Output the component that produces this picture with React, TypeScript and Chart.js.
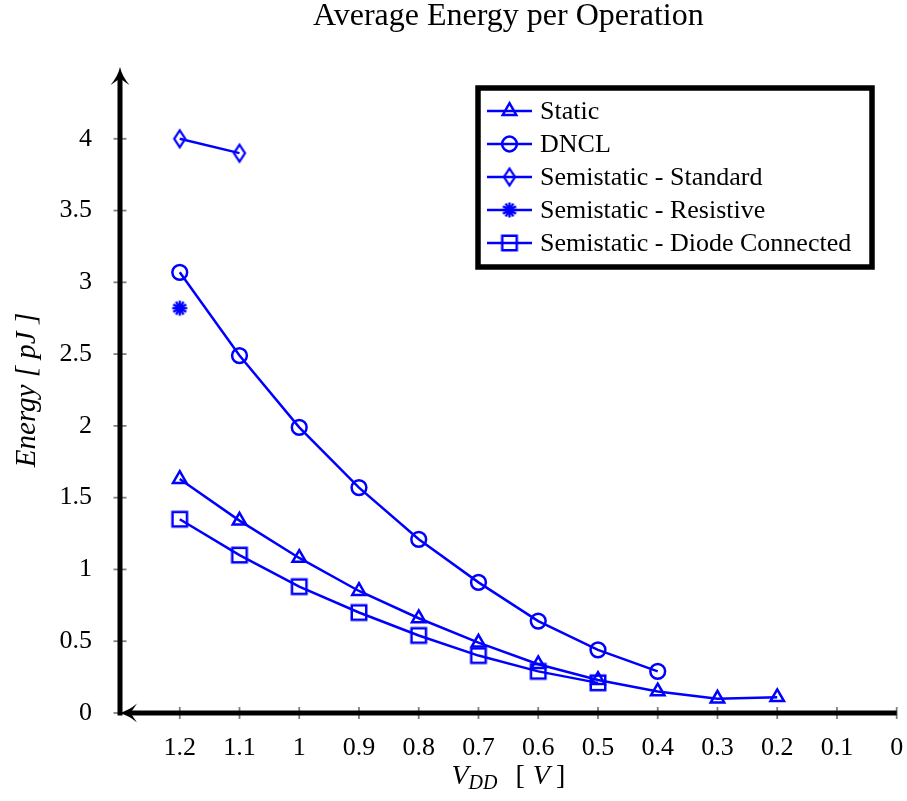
import React, { useEffect, useRef } from 'react';
import { Chart, registerables } from 'chart.js';
import { drawPoint } from 'chart.js/helpers';

Chart.register(...registerables);

const TITLE = 'Average Energy per Operation';
const Y_TITLE = 'Energy [ pJ ]';

const staticVdd = [1.2, 1.1, 1.0, 0.9, 0.8, 0.7, 0.6, 0.5, 0.4, 0.3, 0.2];
const staticEnergy = [1.63, 1.34, 1.08, 0.85, 0.66, 0.49, 0.34, 0.23, 0.15, 0.1, 0.11];

const dnclVdd = [1.2, 1.1, 1.0, 0.9, 0.8, 0.7, 0.6, 0.5, 0.4];
const dnclEnergy = [3.07, 2.49, 1.99, 1.57, 1.21, 0.91, 0.64, 0.44, 0.29];

const standardVdd = [1.2, 1.1];
const standardEnergy = [4.0, 3.9];

const resistiveVdd = [1.2];
const resistiveEnergy = [2.82];

const diodeVdd = [1.2, 1.1, 1.0, 0.9, 0.8, 0.7, 0.6, 0.5];
const diodeEnergy = [1.35, 1.1, 0.88, 0.7, 0.54, 0.4, 0.29, 0.21];

const seriesLabels = [
  'Static',
  'DNCL',
  'Semistatic - Standard',
  'Semistatic - Resistive',
  'Semistatic - Diode Connected',
];

const BLUE = 'rgb(0,0,255)';
const SERIF = '"Liberation Serif", "Times New Roman", serif';

function makeDiamond(): HTMLCanvasElement {
  const c = document.createElement('canvas');
  c.width = 20;
  c.height = 24;
  const g = c.getContext('2d')!;
  g.strokeStyle = BLUE;
  g.lineWidth = 2.3;
  g.beginPath();
  g.moveTo(10, 3.5);
  g.lineTo(15.5, 12);
  g.lineTo(10, 20.5);
  g.lineTo(4.5, 12);
  g.closePath();
  g.stroke();
  return c;
}

function makeSquare(): HTMLCanvasElement {
  const c = document.createElement('canvas');
  c.width = 22;
  c.height = 22;
  const g = c.getContext('2d')!;
  g.strokeStyle = BLUE;
  g.lineWidth = 2.5;
  g.strokeRect(3.75, 3.75, 14.5, 14.5);
  return c;
}

function makeAsterisk(): HTMLCanvasElement {
  const c = document.createElement('canvas');
  c.width = 20;
  c.height = 20;
  const g = c.getContext('2d')!;
  g.strokeStyle = BLUE;
  g.lineWidth = 2.4;
  const r = 7.5;
  [0, 30, 60, 90, 120, 150].forEach((deg) => {
    const a = (deg * Math.PI) / 180;
    g.beginPath();
    g.moveTo(10 - r * Math.cos(a), 10 - r * Math.sin(a));
    g.lineTo(10 + r * Math.cos(a), 10 + r * Math.sin(a));
    g.stroke();
  });
  g.fillStyle = BLUE;
  g.beginPath();
  g.arc(10, 10, 4.5, 0, Math.PI * 2);
  g.fill();
  return c;
}

function drawArrow(ctx: CanvasRenderingContext2D, tx: number, ty: number, dir: 'left' | 'up') {
  const L = 18;
  const W = 9.5;
  ctx.save();
  ctx.translate(tx, ty);
  if (dir === 'up') ctx.rotate(Math.PI / 2);
  ctx.beginPath();
  ctx.moveTo(0, 0);
  ctx.quadraticCurveTo(L * 0.55, -W * 0.25, L, -W);
  ctx.quadraticCurveTo(L * 0.72, -W * 0.2, L * 0.62, 0);
  ctx.quadraticCurveTo(L * 0.72, W * 0.2, L, W);
  ctx.quadraticCurveTo(L * 0.55, W * 0.25, 0, 0);
  ctx.closePath();
  ctx.fillStyle = '#000';
  ctx.fill();
  ctx.restore();
}

const fmt = (v: number) => String(Number(Number(v).toFixed(2)));

const axesPlugin = {
  id: 'axesDeco',
  beforeDatasetsDraw(chart: any) {
    const { ctx, chartArea, scales } = chart;
    const xs = scales.x;
    const ys = scales.y;
    const y0 = ys.getPixelForValue(0);
    const left = chartArea.left;
    ctx.save();
    ctx.strokeStyle = 'rgb(128,128,128)';
    ctx.lineWidth = 1.8;
    xs.ticks.forEach((t: any) => {
      const px = xs.getPixelForValue(t.value);
      ctx.beginPath();
      ctx.moveTo(px, y0 - 6);
      ctx.lineTo(px, y0 + 6);
      ctx.stroke();
    });
    ys.ticks.forEach((t: any) => {
      const py = ys.getPixelForValue(t.value);
      ctx.beginPath();
      ctx.moveTo(left - 6.5, py);
      ctx.lineTo(left + 6.5, py);
      ctx.stroke();
    });
    ctx.strokeStyle = '#000';
    ctx.lineWidth = 5;
    ctx.beginPath();
    ctx.moveTo(xs.getPixelForValue(0), y0);
    ctx.lineTo(left + 8, y0);
    ctx.stroke();
    ctx.beginPath();
    ctx.moveTo(left, y0 + 2.5);
    ctx.lineTo(left, chartArea.top + 8);
    ctx.stroke();
    drawArrow(ctx, left - 1, y0, 'left');
    drawArrow(ctx, left, chartArea.top, 'up');

    // x axis title with subscript
    const parts = [
      { t: 'V', f: `italic 28px ${SERIF}`, dy: 0, gap: 0 },
      { t: 'DD', f: `italic 20px ${SERIF}`, dy: 5, gap: 18 },
      { t: '[', f: `28px ${SERIF}`, dy: 0, gap: 8 },
      { t: 'V', f: `italic 28px ${SERIF}`, dy: 0, gap: 6 },
      { t: ']', f: `28px ${SERIF}`, dy: 0, gap: 0 },
    ];
    let total = 0;
    const widths = parts.map((p) => {
      ctx.font = p.f;
      const w = ctx.measureText(p.t).width;
      total += w + p.gap;
      return w;
    });
    const cx = (chartArea.left + chartArea.right) / 2;
    let x = cx - total / 2;
    const base = 784;
    ctx.fillStyle = '#000';
    ctx.textBaseline = 'alphabetic';
    ctx.textAlign = 'left';
    parts.forEach((p, i) => {
      ctx.font = p.f;
      ctx.fillText(p.t, x, base + p.dy);
      x += widths[i] + p.gap;
    });
    ctx.restore();
  },
};

const legendPlugin = {
  id: 'boxLegend',
  afterDraw(chart: any) {
    const { ctx } = chart;
    ctx.save();
    ctx.strokeStyle = '#000';
    ctx.lineWidth = 5.5;
    ctx.strokeRect(478, 88, 394, 179);
    chart.data.datasets.forEach((ds: any, i: number) => {
      const cy = 111 + 33 * i;
      ctx.strokeStyle = BLUE;
      ctx.lineWidth = 2.5;
      ctx.beginPath();
      ctx.moveTo(487, cy);
      ctx.lineTo(532, cy);
      ctx.stroke();
      ctx.fillStyle = 'rgba(0,0,0,0)';
      drawPoint(
        ctx,
        {
          pointStyle: ds.pointStyle,
          radius: ds.pointRadius,
          rotation: 0,
          borderWidth: ds.pointBorderWidth,
        } as any,
        509.5,
        cy
      );
      ctx.fillStyle = '#000';
      ctx.font = `26px ${SERIF}`;
      ctx.textBaseline = 'middle';
      ctx.textAlign = 'left';
      ctx.fillText(ds.label, 540, cy + 1);
    });
    ctx.restore();
  },
};

export default function App() {
  const ref = useRef<HTMLCanvasElement>(null);
  useEffect(() => {
    const diamond = makeDiamond();
    const asterisk = makeAsterisk();
    const square = makeSquare();
    const mk = (label: string, xs: number[], ys: number[], style: any, radius: number) => ({
      label,
      data: xs.map((x, i) => ({ x, y: ys[i] })),
      borderColor: BLUE,
      backgroundColor: 'rgba(0,0,0,0)',
      borderWidth: 2.5,
      pointStyle: style,
      pointRadius: radius,
      pointHoverRadius: radius,
      pointBorderWidth: 2.5,
      pointBackgroundColor: 'rgba(0,0,0,0)',
      pointBorderColor: BLUE,
      tension: 0,
      fill: false,
    });
    const chart = new Chart(ref.current!, {
      type: 'line',
      data: {
        datasets: [
          mk(seriesLabels[0], staticVdd, staticEnergy, 'triangle', 7.8),
          mk(seriesLabels[1], dnclVdd, dnclEnergy, 'circle', 7.4),
          mk(seriesLabels[2], standardVdd, standardEnergy, diamond, 7.5),
          mk(seriesLabels[3], resistiveVdd, resistiveEnergy, asterisk, 7.5),
          mk(seriesLabels[4], diodeVdd, diodeEnergy, square, 7.5),
        ],
      },
      options: {
        animation: false,
        responsive: false,
        devicePixelRatio: 1,
        events: [],
        layout: { padding: { left: 0, right: 10, top: 0, bottom: 0 } },
        plugins: {
          legend: { display: false },
          tooltip: { enabled: false },
          title: {
            display: true,
            fullSize: false,
            text: TITLE,
            color: '#000',
            font: { family: SERIF, size: 32, weight: 'normal', lineHeight: 1 },
            padding: { top: 1, bottom: 34 },
          },
        },
        scales: {
          x: {
            type: 'linear',
            reverse: true,
            min: 0,
            max: 1.3,
            border: { display: false },
            grid: { display: false },
            ticks: {
              stepSize: 0.1,
              color: '#000',
              padding: 12,
              font: { family: SERIF, size: 26 },
              maxRotation: 0,
              autoSkip: false,
              callback: (v: any) => fmt(v),
            },
            afterBuildTicks: (s: any) => {
              s.ticks = s.ticks.filter((t: any) => t.value <= 1.2001);
            },
            afterFit: (s: any) => {
              s.height = 88;
              s.paddingLeft = 0;
              s.paddingRight = 0;
            },
          },
          y: {
            type: 'linear',
            min: 0,
            max: 4.5,
            border: { display: false },
            grid: { display: false },
            ticks: {
              stepSize: 0.5,
              color: '#000',
              padding: 20,
              font: { family: SERIF, size: 26 },
              autoSkip: false,
              callback: (v: any) => fmt(v),
            },
            afterBuildTicks: (s: any) => {
              s.ticks = s.ticks.filter((t: any) => t.value <= 4.0001);
            },
            afterFit: (s: any) => {
              s.width = 120;
              s.paddingTop = 0;
              s.paddingBottom = 0;
            },
            title: {
              display: true,
              text: Y_TITLE,
              color: '#000',
              font: { family: SERIF, size: 29, style: 'italic', lineHeight: 1.2 },
              padding: { top: 10, bottom: 0 },
            },
          },
        },
      },
      plugins: [axesPlugin, legendPlugin],
    } as any);
    return () => chart.destroy();
  }, []);
  return (
    <div style={{ position: 'absolute', left: 0, top: 0, width: 907, height: 801, background: '#fff' }}>
      <canvas ref={ref} width={907} height={801} style={{ display: 'block' }} />
    </div>
  );
}
